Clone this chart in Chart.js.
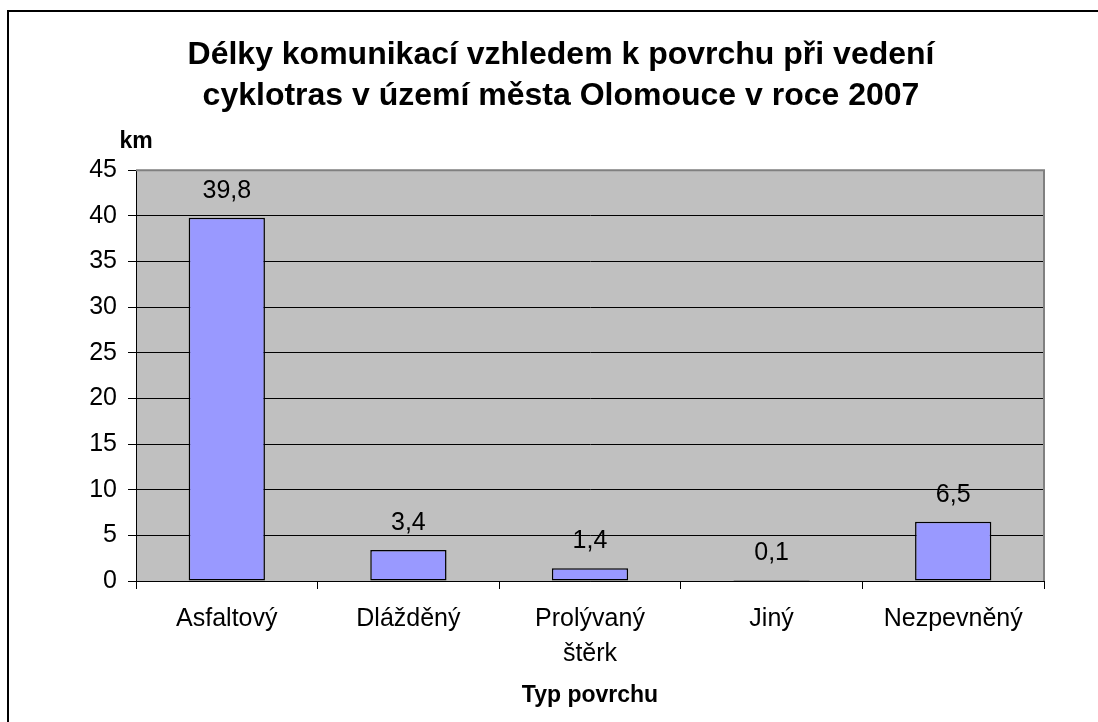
<!DOCTYPE html>
<html>
<head>
<meta charset="utf-8">
<script src="https://cdn.jsdelivr.net/npm/chart.js@4"></script>
<style>
  body { margin: 0; background: #fff; }
  canvas { display: block; }
</style>
</head>
<body>
<canvas id="surfaceChart" width="1098" height="722"></canvas>
<script>
const categories = ['Asfaltový', 'Dlážděný', ['Prolývaný', 'štěrk'], 'Jiný', 'Nezpevněný'];
const lengthsKm = [39.8, 3.4, 1.4, 0.1, 6.5];
const titleLines = ['Délky komunikací vzhledem k povrchu při vedení', 'cyklotras v území města Olomouce v roce 2007'];
const yUnit = 'km';
const xTitle = 'Typ povrchu';

const FONT = "'Liberation Sans', Arial, sans-serif";

// frame, grey plot background, unit label and value labels
const decor = {
  id: 'decor',
  beforeDraw(chart) {
    const { ctx, chartArea: a } = chart;
    ctx.save();
    ctx.strokeStyle = '#000';
    ctx.lineWidth = 2;
    ctx.beginPath();
    ctx.moveTo(8, 722);
    ctx.lineTo(8, 11);
    ctx.lineTo(1098, 11);
    ctx.stroke();
    ctx.fillStyle = '#c0c0c0';
    ctx.fillRect(a.left, a.top, a.right - a.left, a.bottom - a.top);
    ctx.restore();
  },
  afterDraw(chart) {
    const { ctx, chartArea: a } = chart;
    ctx.save();
    ctx.strokeStyle = '#808080';
    ctx.lineWidth = 2;
    ctx.beginPath();
    ctx.moveTo(a.left, a.top);
    ctx.lineTo(a.right, a.top);
    ctx.lineTo(a.right, a.bottom);
    ctx.stroke();

    ctx.fillStyle = '#000';
    ctx.font = 'bold 23px ' + FONT;
    ctx.textAlign = 'center';
    ctx.textBaseline = 'alphabetic';
    ctx.fillText(yUnit, a.left, 148);

    ctx.font = '25px ' + FONT;
    chart.getDatasetMeta(0).data.forEach((bar, i) => {
      const txt = lengthsKm[i].toFixed(1).replace('.', ',');
      ctx.fillText(txt, bar.x, bar.y - 20);
    });
    ctx.restore();
  }
};

new Chart(document.getElementById('surfaceChart'), {
  type: 'bar',
  data: {
    labels: categories,
    datasets: [{
      data: lengthsKm,
      backgroundColor: '#9999ff',
      borderColor: '#000',
      borderWidth: 1.5,
      borderSkipped: false,
      categoryPercentage: 1,
      barPercentage: 0.42
    }]
  },
  options: {
    responsive: false,
    animation: false,
    layout: { padding: { left: 78, right: 54, top: 0, bottom: 0 } },
    plugins: {
      legend: { display: false },
      tooltip: { enabled: false },
      title: {
        display: true,
        text: titleLines,
        color: '#000',
        font: { family: FONT, size: 32, weight: 'bold', lineHeight: 1.3 },
        padding: { top: 34, bottom: 53 }
      }
    },
    scales: {
      x: {
        afterFit: s => { s.height = 141; },
        grid: { offset: true, drawOnChartArea: false, tickLength: 8, color: '#000' },
        border: { color: '#000', width: 1 },
        ticks: { color: '#000', padding: 13, maxRotation: 0, font: { family: FONT, size: 25, lineHeight: 1.4 } },
        title: {
          display: true,
          text: xTitle,
          color: '#000',
          font: { family: FONT, size: 23, weight: 'bold', lineHeight: 1.2 },
          padding: { top: 0, bottom: 13 }
        }
      },
      y: {
        min: 0,
        max: 45,
        afterFit: s => { s.width = 58; },
        grid: { color: '#000', tickLength: 8 },
        border: { color: '#000', width: 1 },
        ticks: { stepSize: 5, color: '#000', padding: 11, font: { family: FONT, size: 25 } }
      }
    }
  },
  plugins: [decor]
});
</script>
</body>
</html>
